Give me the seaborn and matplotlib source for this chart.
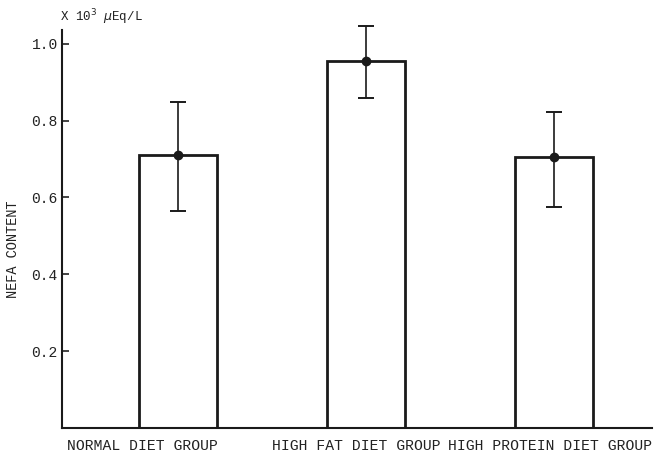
import matplotlib
matplotlib.use("Agg")
import matplotlib.pyplot as plt
import seaborn as sns
import pandas as pd
import numpy as np

groups = ["NORMAL DIET GROUP", "HIGH FAT DIET GROUP", "HIGH PROTEIN DIET GROUP"]
means = [0.711, 0.956, 0.706]
err_low = [0.565, 0.859, 0.576]
err_high = [0.849, 1.047, 0.823]
yticks = [0.2, 0.4, 0.6, 0.8, 1.0]
ytick_labels = ["0.2", "0.4", "0.6", "0.8", "1.0"]

sns.set_theme(style="white")
plt.rcParams["font.family"] = ["Liberation Mono", "DejaVu Sans Mono"]

df = pd.DataFrame({"group": groups, "value": means})

fig = plt.figure(figsize=(6.55, 4.54), dpi=100)
ax = fig.add_axes([0.0947, 0.0573, 0.9003, 0.8767])

sns.barplot(data=df, x="group", y="value", ax=ax, color="white",
            edgecolor="#1a1a1a", linewidth=2.0, width=0.41, errorbar=None)

x = np.arange(len(groups))
lo = np.array(means) - np.array(err_low)
hi = np.array(err_high) - np.array(means)
eb = ax.errorbar(x, means, yerr=[lo, hi], fmt="o", color="#1a1a1a", ecolor="#1a1a1a",
                 elinewidth=1.2, capsize=6, capthick=1.4, markersize=6, zorder=5)
for art in eb.lines[1] + eb.lines[2] + (eb.lines[0],):
    art.set_clip_on(False)

ax.set_xlim(-0.617, 2.52)
ax.set_ylim(0, 1.036)
ax.set_yticks(yticks)
ax.set_yticklabels(ytick_labels, fontsize=10.5, color="#222222")
ax.tick_params(axis="y", direction="in", length=5, width=1.2, color="#222222", pad=3, left=True)
ax.set_xticks([-0.19, 0.95, 1.98])
ax.set_xticklabels(groups, fontsize=10.6, color="#222222")
ax.tick_params(axis="x", length=0, pad=8)

for s in ["top", "right"]:
    ax.spines[s].set_visible(False)
for s in ["left", "bottom"]:
    ax.spines[s].set_color("#1a1a1a")
    ax.spines[s].set_linewidth(1.5)

ax.set_xlabel("")
ax.set_ylabel("NEFA CONTENT", fontsize=9.8, color="#222222", labelpad=14)
ax.yaxis.set_label_coords(-0.072, 0.45)

fig.text(0.092, 0.962, "X 10$^3$ $\\mu$Eq/L", fontsize=9, color="#222222", ha="left", va="center")

fig.savefig("out.png", dpi=100, facecolor="white")
